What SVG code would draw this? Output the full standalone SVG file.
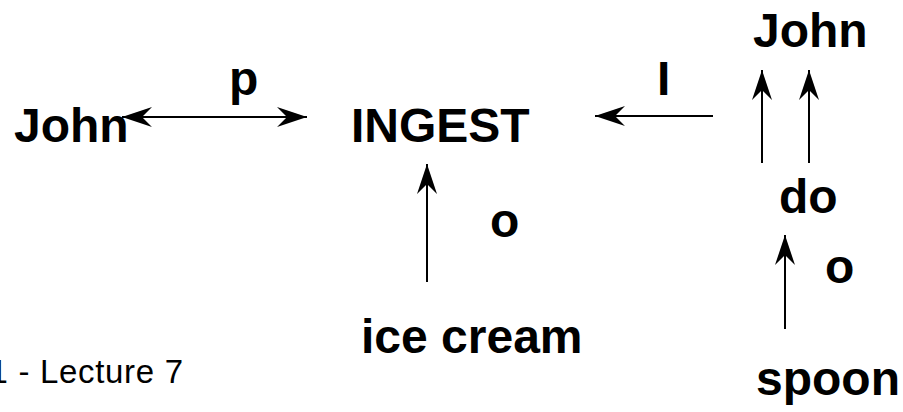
<svg xmlns="http://www.w3.org/2000/svg" width="903" height="412" viewBox="0 0 903 412">
<style>
.n{font-family:"Liberation Sans",Arial,sans-serif;font-weight:bold;font-size:48px;fill:#000}
.l{font-family:"Liberation Sans",Arial,sans-serif;font-weight:bold;font-size:48px;fill:#000}
.f{font-family:"Liberation Sans",Arial,sans-serif;font-size:33px;fill:#000}
.c{stroke:#000;stroke-width:2;fill:none}
</style>
<defs>
<marker id="ah" viewBox="-30 -10 30 20" refX="0" refY="0" markerWidth="30" markerHeight="20" markerUnits="userSpaceOnUse" orient="auto-start-reverse">
<path d="M0,0 L-30,-10 L-20,0 L-30,10 Z" fill="#000"/>
</marker>
</defs>
<rect width="903" height="412" fill="#fff"/>
<g id="connectors">
<line class="c" x1="122" y1="117" x2="307" y2="117" marker-start="url(#ah)" marker-end="url(#ah)"/>
<line class="c" x1="713" y1="116" x2="595" y2="116" marker-end="url(#ah)"/>
<line class="c" x1="762" y1="163" x2="762" y2="70" marker-end="url(#ah)"/>
<line class="c" x1="809" y1="163" x2="809" y2="70" marker-end="url(#ah)"/>
<line class="c" x1="427" y1="282" x2="427" y2="164" marker-end="url(#ah)"/>
<line class="c" x1="785" y1="329" x2="785" y2="235" marker-end="url(#ah)"/>
<text class="l" x="229" y="95">p</text>
<text class="l" x="657" y="95">I</text>
<text class="l" x="490" y="237">o</text>
<text class="l" x="825" y="283">o</text>
</g>
<g id="john1"><text class="n" x="14" y="142">John</text></g>
<g id="ingest"><text class="n" x="351" y="142">INGEST</text></g>
<g id="john2"><text class="n" x="753" y="47">John</text></g>
<g id="do"><text class="n" x="779" y="213">do</text></g>
<g id="icecream"><text class="n" x="361" y="353">ice cream</text></g>
<g id="spoon"><text class="n" x="756" y="395">spoon</text></g>
<g id="footer"><text class="f" x="-10.5" y="383" textLength="193.5" lengthAdjust="spacing">1 - Lecture 7</text></g>
</svg>
